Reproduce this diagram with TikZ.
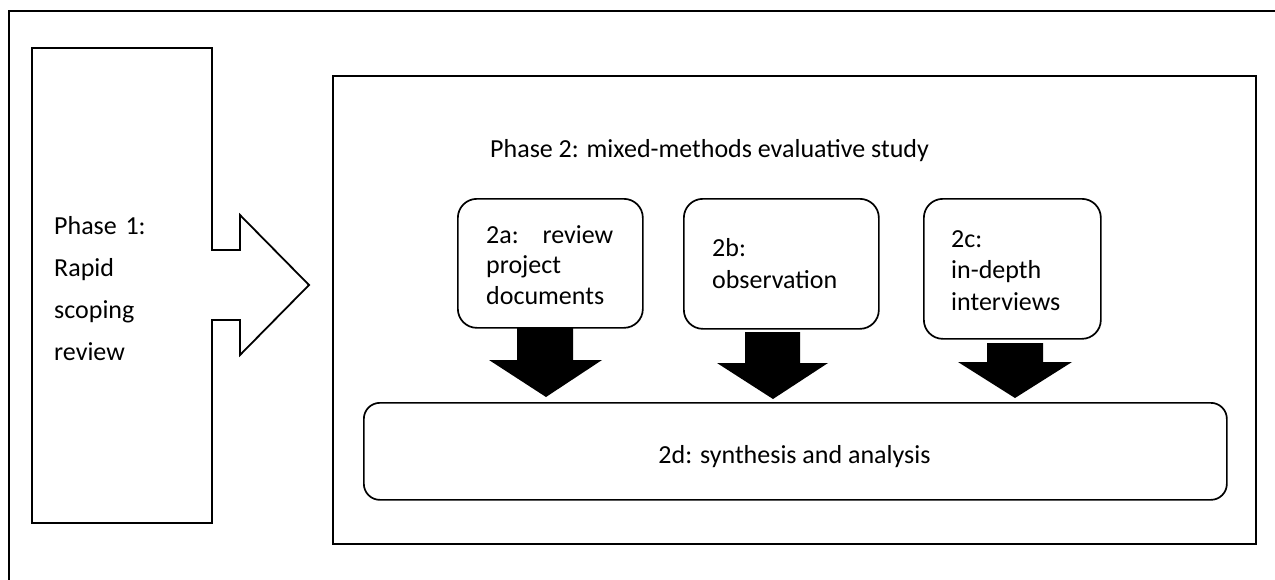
\documentclass[tikz,border=0pt]{standalone}
\usepackage{fontspec}
\setmainfont{Carlito}
\begin{document}
\begin{tikzpicture}[x=1pt,y=-1pt,
    frameline/.style={line width=2pt},
    plainbox/.style={draw,line width=2pt,rectangle,inner sep=0pt,anchor=north west},
    stagebox/.style={draw,line width=1.7pt,rectangle,rounded corners=19pt,inner sep=0pt,anchor=north west},
    lbl/.style={font=\fontsize{26}{30.5}\selectfont,inner sep=0pt,anchor=base west,align=left},
    blockarrow/.style={fill=black,draw=none}]
  \useasboundingbox (0,0) rectangle (1275,579);

  % outer frame (only the top and left sides fall inside the page)
  \draw[frameline] (1276,11) -- (8.5,11) -- (8.5,580);

  % phase 1: box with a right-pointing arrow on its side
  \draw[line width=1.8pt,line join=miter]
    (32,48) -- (212,48) -- (212,250) -- (240,250) -- (240,215) -- (309,285)
    -- (240,355) -- (240,320) -- (212,320) -- (212,523) -- (32,523) -- cycle;
  \node[lbl,text width=150pt,font=\fontsize{26}{42}\selectfont] (p1txt) at (54,234)
    {Phase 1:\\Rapid\\scoping\\review};

  % phase 2 container
  \node[plainbox,minimum width=923pt,minimum height=468pt] (phase2) at (332,75) {};
  \node[lbl] (p2lbl) at (490,157) {Phase 2: mixed-methods evaluative study};

  % stages
  \node[stagebox,minimum width=185pt,minimum height=129pt] (b2a) at (457,198) {};
  \node[stagebox,minimum width=195pt,minimum height=130pt] (b2b) at (683,198) {};
  \node[stagebox,minimum width=177pt,minimum height=140pt] (b2c) at (923,198) {};
  \node[stagebox,rounded corners=16pt,minimum width=863pt,minimum height=97pt] (b2d) at (363,402) {};

  \node[lbl,text width=127pt] (t2a) at (486,243) {2a:\hfill review\\project\\documents};
  \node[lbl,text width=160pt,font=\fontsize{26}{32}\selectfont] (t2b) at (712,256) {2b:\\observation};
  \node[lbl,text width=140pt,font=\fontsize{26}{31.5}\selectfont] (t2c) at (951,247) {2c:\\in-depth\\interviews};
  \node[lbl,anchor=base] (t2d) at (794.5,463) {2d: synthesis and analysis};

  % block arrows from each stage down to the synthesis box
  \coordinate (tipa) at (546,397);
  \coordinate (tipb) at (773,399);
  \coordinate (tipc) at (1015,398);
  \fill[blockarrow] (517,327) -- (573,327) -- (573,360) -- (602,360) -- (tipa)
    -- (489,360) -- (517,360) -- cycle;
  \fill[blockarrow] (745,332) -- (800,332) -- (800,363) -- (828,363) -- (tipb)
    -- (717,363) -- (745,363) -- cycle;
  \fill[blockarrow] (987,343) -- (1043,343) -- (1043,362) -- (1072,362) -- (tipc)
    -- (958,362) -- (987,362) -- cycle;
\end{tikzpicture}
\end{document}
